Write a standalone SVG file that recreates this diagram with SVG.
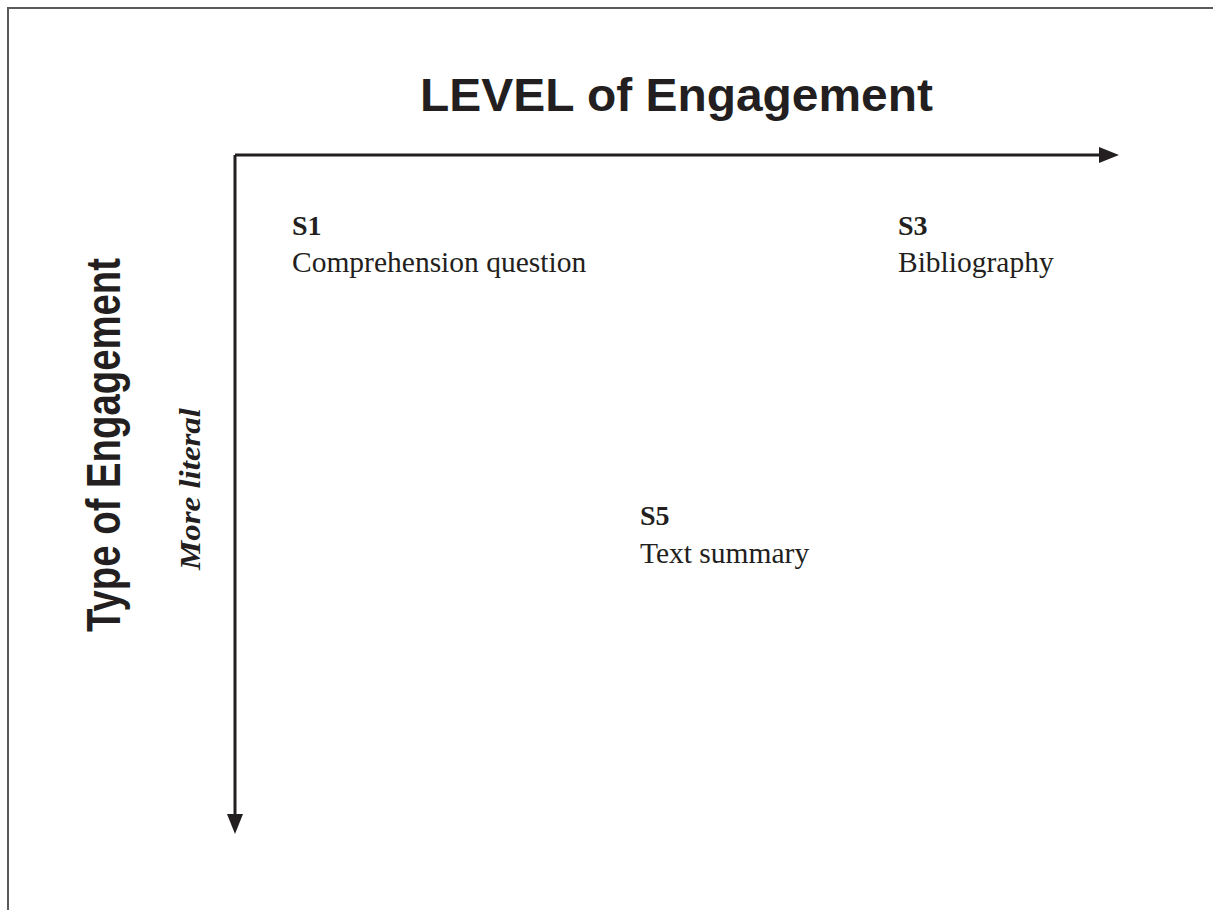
<svg xmlns="http://www.w3.org/2000/svg" width="1213" height="910" viewBox="0 0 1213 910">
<style>
.sans{font-family:"Liberation Sans",Arial,sans-serif;font-weight:bold;fill:#231f20}
.serif{font-family:"Liberation Serif","Times New Roman",serif;fill:#231f20;font-size:29.5px}
.lbl{font-weight:bold;font-size:28px}
.axis{stroke:#231f20;stroke-width:3;fill:none}
</style>
<defs>
<marker id="ah" markerUnits="userSpaceOnUse" markerWidth="22" markerHeight="16" refX="0" refY="8" orient="auto" viewBox="0 0 22 16">
<path d="M0,0 L20,8 L0,16 Z" fill="#231f20"/>
</marker>
</defs>
<rect width="1213" height="910" fill="#ffffff"/>
<path d="M8,910 V8 H1213" fill="none" stroke="#5a5a5a" stroke-width="2"/>
<g id="title">
<text class="sans" x="420" y="111" font-size="47" textLength="513" lengthAdjust="spacingAndGlyphs">LEVEL of Engagement</text>
</g>
<g id="y-title">
<text class="sans" transform="translate(120,632) rotate(-90)" x="0" y="0" font-size="48" textLength="374" lengthAdjust="spacingAndGlyphs">Type of Engagement</text>
</g>
<g id="y-sub">
<text class="serif" transform="translate(200,489) rotate(-90)" x="0" y="0" text-anchor="middle" font-size="34" font-weight="bold" font-style="italic" textLength="162" lengthAdjust="spacingAndGlyphs">More literal</text>
</g>
<g id="connectors">
<path class="axis" d="M235,155 H1099" marker-end="url(#ah)"/>
<path class="axis" d="M235,155 V814" marker-end="url(#ah)"/>
</g>
<g id="S1">
<text class="serif lbl" x="292" y="235">S1</text>
<text class="serif" x="292" y="272">Comprehension question</text>
</g>
<g id="S3">
<text class="serif lbl" x="898" y="235">S3</text>
<text class="serif" x="898" y="272">Bibliography</text>
</g>
<g id="S5">
<text class="serif lbl" x="640" y="525">S5</text>
<text class="serif" x="640" y="563">Text summary</text>
</g>
</svg>
